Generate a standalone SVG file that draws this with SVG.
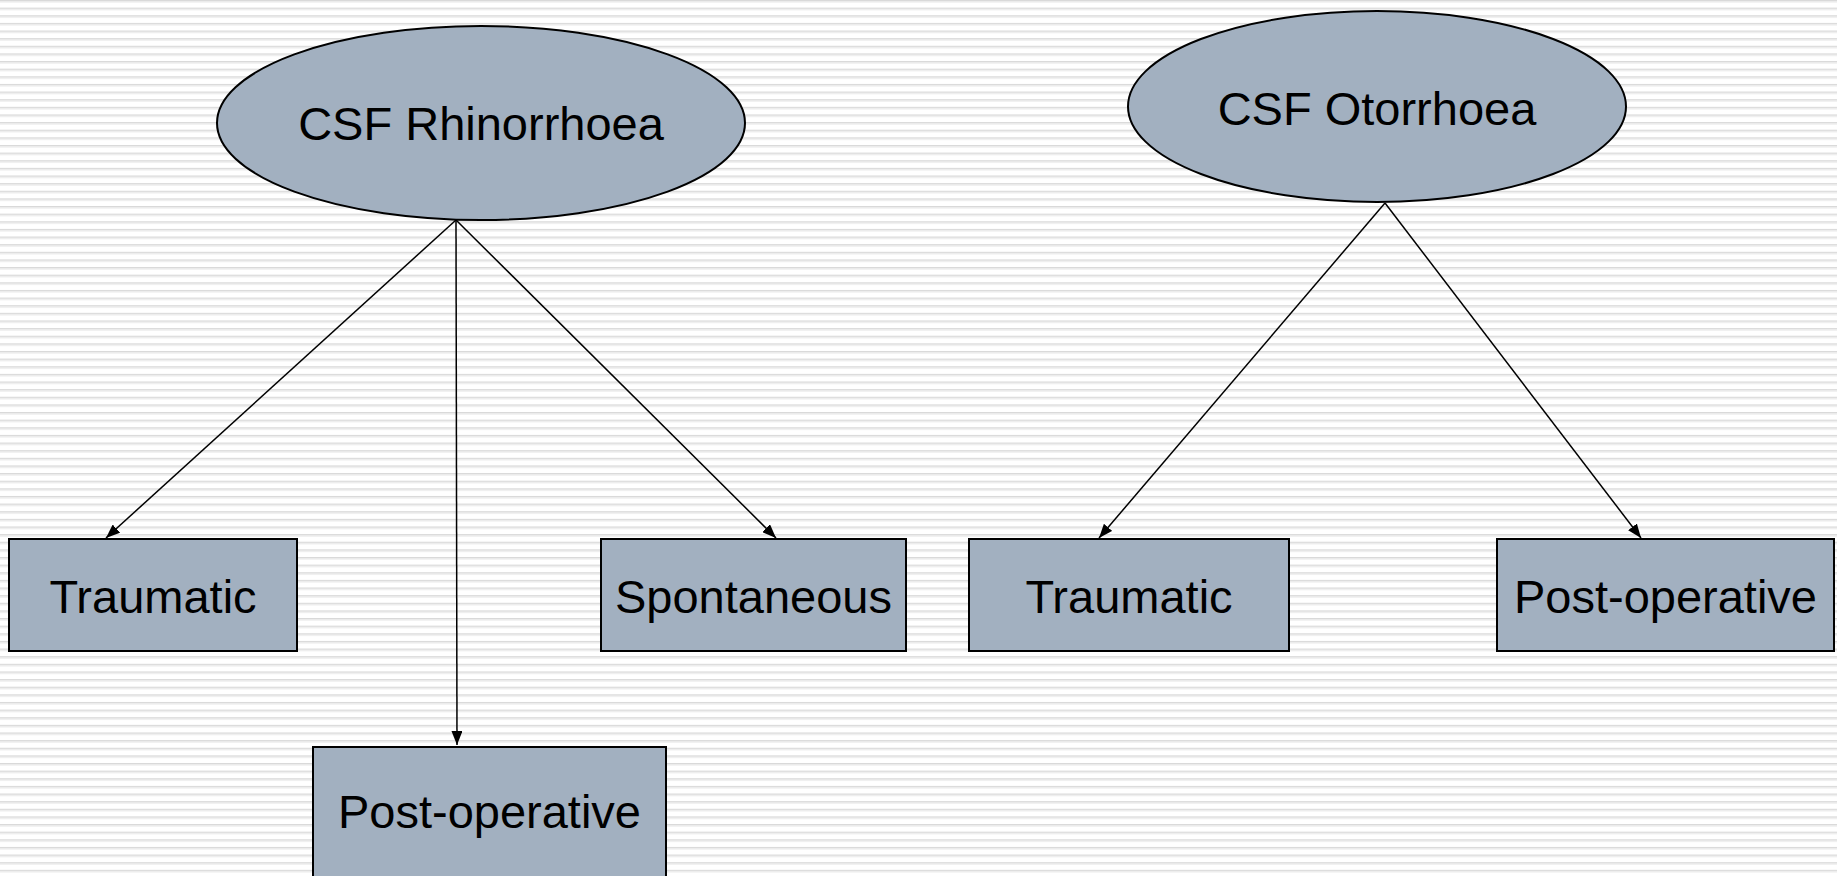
<svg xmlns="http://www.w3.org/2000/svg" width="1837" height="876" viewBox="0 0 1837 876">
<style>
.node{fill:#a2b0c0;stroke:#000;stroke-width:2}
.lbl{font-family:"Liberation Sans",Arial,sans-serif;font-size:47px;fill:#000;text-anchor:middle}
.conn{stroke:#000;stroke-width:1.5;fill:none;marker-end:url(#ah)}
</style>
<defs>
<pattern id="stripes" width="20" height="7.63" patternUnits="userSpaceOnUse">
<rect x="0" y="0" width="20" height="1.2" fill="#d9d9d9"/>
<rect x="0" y="1.2" width="20" height="1.3" fill="#e8e8e8"/>
</pattern>
<marker id="ah" viewBox="0 0 14 11" refX="14" refY="5.5" markerWidth="14" markerHeight="11" markerUnits="userSpaceOnUse" orient="auto">
<path d="M0,0 L14,5.5 L0,11 Z" fill="#000"/>
</marker>
</defs>
<rect width="1837" height="876" fill="#ffffff"/>
<rect width="1837" height="876" fill="url(#stripes)"/>
<g id="connectors">
<line class="conn" x1="456" y1="220" x2="106" y2="538"/>
<line class="conn" x1="456" y1="220" x2="457" y2="745"/>
<line class="conn" x1="456" y1="220" x2="776" y2="538"/>
<line class="conn" x1="1385" y1="203" x2="1099" y2="538"/>
<line class="conn" x1="1385" y1="203" x2="1641" y2="538"/>
</g>
<g id="rhinorrhoea">
<ellipse class="node" cx="481" cy="123" rx="264" ry="97"/>
<text class="lbl" x="481" y="140">CSF Rhinorrhoea</text>
</g>
<g id="otorrhoea">
<ellipse class="node" cx="1377" cy="106.5" rx="249" ry="95.5"/>
<text class="lbl" x="1377" y="125">CSF Otorrhoea</text>
</g>
<g id="rhino-traumatic">
<rect class="node" x="9" y="539" width="288" height="112"/>
<text class="lbl" x="153" y="613">Traumatic</text>
</g>
<g id="rhino-spontaneous">
<rect class="node" x="601" y="539" width="305" height="112"/>
<text class="lbl" x="753.5" y="613">Spontaneous</text>
</g>
<g id="rhino-postop">
<rect class="node" x="313" y="747" width="353" height="130"/>
<text class="lbl" x="489.5" y="828">Post-operative</text>
</g>
<g id="oto-traumatic">
<rect class="node" x="969" y="539" width="320" height="112"/>
<text class="lbl" x="1129" y="613">Traumatic</text>
</g>
<g id="oto-postop">
<rect class="node" x="1497" y="539" width="337" height="112"/>
<text class="lbl" x="1665.5" y="613">Post-operative</text>
</g>
</svg>
